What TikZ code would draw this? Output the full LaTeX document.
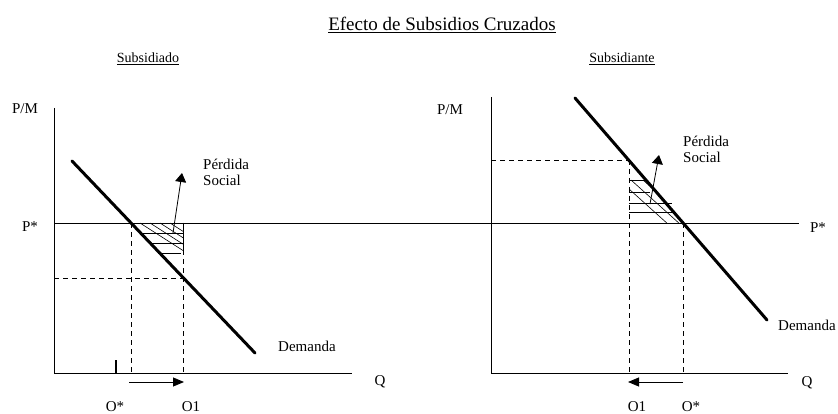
\documentclass[tikz,border=0pt]{standalone}
\usepackage{fontspec}
\setmainfont{Liberation Serif}
\usetikzlibrary{arrows.meta}
\tikzset{axis line/.style={
        line width=0.8pt,
    },
    demand line/.style={
        line width=3pt, line cap=round,
    },
    guide line/.style={
        line width=0.8pt, dash pattern=on 5pt off 4pt,
    },
    hatch line/.style={
        line width=0.6pt,
    },
    shift arrow/.style={
        line width=0.9pt, -{Triangle[length=11pt,width=9pt]},
    },
    loss arrow/.style={
        line width=0.8pt, -{Triangle[length=9pt,width=11pt]},
    },
    plot label/.style={
        font=\fontsize{15}{16}\selectfont, inner sep=0pt, anchor=#1,
    },
    panel title/.style={
        font=\fontsize{14}{16}\selectfont, inner sep=0pt, anchor=base,
    },
}

\begin{document}
\begin{tikzpicture}[x=1pt, y=-1pt]
    \clip (0,0) rectangle (838,414);
    \fill[white] (0,0) rectangle (838,414);

    %% titles
        \node [font=\fontsize{19}{20}\selectfont, inner sep=0pt, anchor=base] (title) at (442,31) {\underline{Efecto de Subsidios Cruzados}};
        \node [panel title] (subA) at (148,63) {\underline{Subsidiado}};
        \node [panel title] (subB) at (622,63) {\underline{Subsidiante}};

    %% axes and the common P* line
        \coordinate (OA) at (54,373);
        \coordinate (OB) at (491,373);
        \draw [axis line] (54,108) -- (OA) -- (352,373);
        \draw [axis line] (491,97) -- (OB) -- (788,373);
        \coordinate (pstarA) at (54,223);
        \coordinate (pstarB) at (799,223);
        \draw [axis line] (pstarA) -- (pstarB);

    %% demand curves
        \coordinate (dA1) at (72,161);
        \coordinate (dA2) at (255,353);
        \coordinate (dB1) at (575,98);
        \coordinate (dB2) at (767,320);
        \draw [demand line] (dA1) -- (dA2);
        \draw [demand line] (dB1) -- (dB2);

    %% guide lines (Subsidiado)
        \draw [guide line] (131,223) -- (131,373);
        \draw [guide line] (183,223) -- (183,373);
        \draw [guide line] (54,278) -- (183,278);
    %% guide lines (Subsidiante)
        \draw [guide line] (629,160) -- (629,373);
        \draw [guide line] (683,223) -- (683,373);
        \draw [guide line] (491,160) -- (629,160);

    %% hatched areas
        \draw [hatch line] (140,233) -- (183,233) (149,243) -- (183,243) (158,253) -- (181,253);
        \begin{scope}
            \clip (131,223) -- (183,223) -- (183,256) -- (162,256) -- cycle;
            \draw [hatch line] (140,223) -- (190,255) (150,223) -- (200,255) (160,223) -- (210,255) (170,223) -- (220,255);
        \end{scope}
        \draw [hatch line] (183,223) -- (183,255);
        \draw [hatch line] (629,180) -- (647,180) (629,192) -- (650,192) (629,203) -- (672,203) (629,212) -- (674,212);
        \begin{scope}
            \clip (629,180) -- (646,180) -- (684,224) -- (629,224) -- cycle;
            \draw [hatch line] (619,180) -- (679,234) (631,180) -- (691,234) (643,180) -- (703,234) (655,180) -- (715,234) (667,180) -- (727,234);
        \end{scope}

    %% Perdida Social pointers
        \coordinate (lossA) at (173,233);
        \coordinate (tipA) at (182,173);
        \coordinate (lossB) at (650,204);
        \coordinate (tipB) at (659,155);
        \draw [loss arrow] (lossA) -- (tipA);
        \draw [loss arrow] (lossB) -- (tipB);

    %% quantity shifts
        \draw [line width=1.6pt] (116,360) -- (116,373);
        \coordinate (shA1) at (129,382);
        \coordinate (shA2) at (184,382);
        \coordinate (shB1) at (683,382);
        \coordinate (shB2) at (628,382);
        \draw [shift arrow] (shA1) -- (shA2);
        \draw [shift arrow] (shB1) -- (shB2);

    %% labels (Subsidiado)
        \node [plot label=base] (pmA) at (25,114) {P/M};
        \node [plot label=base] (psA) at (30,232) {P*};
        \node [plot label=base] (qA) at (380,385) {Q};
        \node [plot label=base west] (perdA) at (203,170) {Pérdida};
        \node [plot label=base west] (socA) at (203,186) {Social};
        \node [plot label=base west] (demA) at (278,351) {Demanda};
        \node [plot label=base] (ostarA) at (115,411) {O*};
        \node [plot label=base] (oneA) at (191,411) {O1};
    %% labels (Subsidiante)
        \node [plot label=base] (pmB) at (450,115) {P/M};
        \node [plot label=base] (psB) at (818,233) {P*};
        \node [plot label=base] (qB) at (807,386) {Q};
        \node [plot label=base west] (perdB) at (683,147) {Pérdida};
        \node [plot label=base west] (socB) at (683,163) {Social};
        \node [plot label=base west] (demB) at (778,330) {Demanda};
        \node [plot label=base] (oneB) at (637,411) {O1};
        \node [plot label=base] (ostarB) at (691,411) {O*};

    \end{tikzpicture}
\end{document}
